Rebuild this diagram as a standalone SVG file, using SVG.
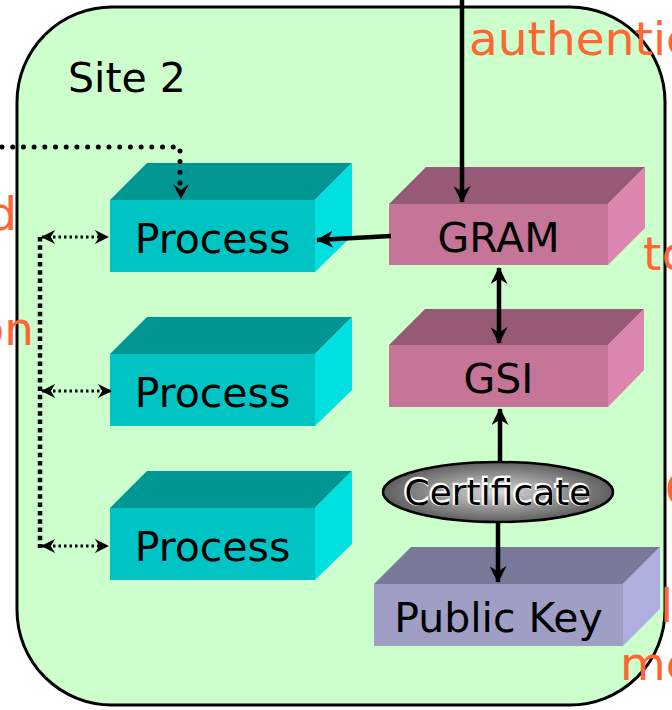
<svg xmlns="http://www.w3.org/2000/svg" width="672" height="710" viewBox="0 0 672 710">
  <style>
    .lbl { font-family: "DejaVu Sans", Verdana, sans-serif; font-size: 41px; fill: #000; text-anchor: middle; }
    .org { font-family: "DejaVu Sans", Verdana, sans-serif; font-size: 47px; fill: #ff6633; }
    .pf { fill: #00c4c4; } .pt { fill: #009694; } .pr { fill: #00e0e0; }
    .gf { fill: #c47598; } .gt { fill: #965a77; } .gr { fill: #dc85ae; }
    .kf { fill: #9f9fc6; } .kt { fill: #787898; } .kr { fill: #b0b0e0; }
    .solid { stroke: #000; stroke-width: 4.5; fill: none; }
    .dots { stroke: #000; stroke-width: 5; fill: none; stroke-linecap: round; stroke-dasharray: 0 10.7; }
    .sq { stroke: #000; stroke-width: 4.5; fill: none; stroke-dasharray: 4.5 3.8; }
    .fine { stroke: #000; stroke-width: 3; fill: none; stroke-dasharray: 2.5 3; }
  </style>
  <defs>
    <marker id="ah" viewBox="0 0 16 16" markerUnits="userSpaceOnUse" markerWidth="17" markerHeight="17" refX="15" refY="8" orient="auto-start-reverse">
      <path d="M0,0 L16,8 L0,16 L5,8 z" fill="#000"/>
    </marker>
    <marker id="ahs" viewBox="0 0 16 16" markerUnits="userSpaceOnUse" markerWidth="14" markerHeight="14" refX="15" refY="8" orient="auto-start-reverse">
      <path d="M0,0 L16,8 L0,16 L5,8 z" fill="#000"/>
    </marker>
    <radialGradient id="cg" cx="50%" cy="50%" r="50%">
      <stop offset="0" stop-color="#d8d8d8"/>
      <stop offset="1" stop-color="#5e5e5e"/>
    </radialGradient>
  </defs>

  <g id="site2">
    <rect x="17" y="7" width="648" height="698" rx="95" ry="95" fill="#ccffcc" stroke="#000" stroke-width="3"/>
    <text x="68" y="92" font-family="DejaVu Sans, Verdana, sans-serif" font-size="41" fill="#000">Site 2</text>
  </g>

  <g id="process1">
    <rect class="pf" x="110" y="200" width="205" height="72"/>
    <polygon class="pt" points="110,200 147,163 352,163 315,200"/>
    <polygon class="pr" points="315,200 352,163 352,236 315,272"/>
    <text class="lbl" x="212.5" y="253">Process</text>
  </g>
  <g id="process2">
    <rect class="pf" x="110" y="354" width="205" height="72"/>
    <polygon class="pt" points="110,354 147,317 352,317 315,354"/>
    <polygon class="pr" points="315,354 352,317 352,390 315,426"/>
    <text class="lbl" x="212.5" y="407">Process</text>
  </g>
  <g id="process3">
    <rect class="pf" x="110" y="508" width="205" height="72"/>
    <polygon class="pt" points="110,508 147,471 352,471 315,508"/>
    <polygon class="pr" points="315,508 352,471 352,544 315,580"/>
    <text class="lbl" x="212.5" y="561">Process</text>
  </g>

  <g id="gram">
    <rect class="gf" x="389" y="204" width="219" height="61"/>
    <polygon class="gt" points="389,204 426,167 645,167 608,204"/>
    <polygon class="gr" points="608,204 645,167 645,228 608,265"/>
    <text class="lbl" x="498.5" y="252">GRAM</text>
  </g>
  <g id="gsi">
    <rect class="gf" x="389" y="345" width="219" height="62"/>
    <polygon class="gt" points="389,345 425,309 644,309 608,345"/>
    <polygon class="gr" points="608,345 644,309 644,370 608,407"/>
    <text class="lbl" x="498.5" y="393">GSI</text>
  </g>
  <g id="publickey">
    <rect class="kf" x="374" y="584" width="249" height="62"/>
    <polygon class="kt" points="374,584 411,547 660,547 623,584"/>
    <polygon class="kr" points="623,584 660,547 660,609 623,646"/>
    <text class="lbl" x="498.5" y="632">Public Key</text>
  </g>

  <g id="connectors">
    <path class="solid" d="M462,0 V202" marker-end="url(#ah)"/>
    <path class="solid" d="M391,236 L317,240" marker-end="url(#ah)"/>
    <path class="solid" d="M499,268 V343" marker-start="url(#ah)" marker-end="url(#ah)"/>
    <path class="solid" d="M500,462 V409" marker-end="url(#ah)"/>
    <path class="solid" d="M498,522 V582" marker-end="url(#ah)"/>
    <path class="dots" d="M2,147 H180 V190"/>
    <path d="M173,184 L181,199 L189,184 L181,190 z" fill="#000"/>
    <path class="sq" d="M40,237 V548"/>
    <path class="fine" d="M42,237 H108" marker-start="url(#ahs)" marker-end="url(#ahs)"/>
    <path class="fine" d="M42,391 H111" marker-start="url(#ahs)" marker-end="url(#ahs)"/>
    <path class="fine" d="M42,546 H108" marker-start="url(#ahs)" marker-end="url(#ahs)"/>
  </g>

  <g id="certificate">
    <ellipse cx="498" cy="492" rx="115" ry="30" fill="url(#cg)" stroke="#000" stroke-width="2.5"/>
    <text x="498" y="505" text-anchor="middle" font-family="DejaVu Sans, Verdana, sans-serif" font-size="36" fill="#fff" stroke="#fff" stroke-width="2.5" transform="translate(-1,-1)">Certificate</text>
    <text x="498" y="505" text-anchor="middle" font-family="DejaVu Sans, Verdana, sans-serif" font-size="36" fill="#000">Certificate</text>
  </g>

  <g id="slide-text">
    <text class="org" x="469" y="55">authentic</text>
    <text class="org" x="17" y="230" text-anchor="end">d</text>
    <text class="org" x="34" y="345" text-anchor="end">on</text>
    <text class="org" x="643" y="270">to</text>
    <text class="org" x="665" y="506">C</text>
    <text class="org" x="660" y="622">l</text>
    <text class="org" x="620" y="680">me</text>
  </g>
</svg>
